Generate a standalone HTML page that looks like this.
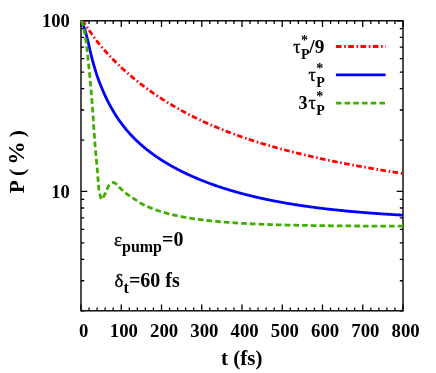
<!DOCTYPE html>
<html><head><meta charset="utf-8"><title>P vs t</title>
<style>html,body{margin:0;padding:0;background:#fff}svg{display:block;will-change:transform}</style></head>
<body><svg width="436" height="373" viewBox="0 0 436 373"><rect x="81.0" y="20.75" width="322.00" height="290.05" fill="none" stroke="#000" stroke-width="1.4"/>
<path d="M81.00 310.8v-6.3M81.00 20.75v6.3M89.05 310.8v-3.2M89.05 20.75v3.2M97.10 310.8v-3.2M97.10 20.75v3.2M105.15 310.8v-3.2M105.15 20.75v3.2M113.20 310.8v-3.2M113.20 20.75v3.2M121.25 310.8v-6.3M121.25 20.75v6.3M129.30 310.8v-3.2M129.30 20.75v3.2M137.35 310.8v-3.2M137.35 20.75v3.2M145.40 310.8v-3.2M145.40 20.75v3.2M153.45 310.8v-3.2M153.45 20.75v3.2M161.50 310.8v-6.3M161.50 20.75v6.3M169.55 310.8v-3.2M169.55 20.75v3.2M177.60 310.8v-3.2M177.60 20.75v3.2M185.65 310.8v-3.2M185.65 20.75v3.2M193.70 310.8v-3.2M193.70 20.75v3.2M201.75 310.8v-6.3M201.75 20.75v6.3M209.80 310.8v-3.2M209.80 20.75v3.2M217.85 310.8v-3.2M217.85 20.75v3.2M225.90 310.8v-3.2M225.90 20.75v3.2M233.95 310.8v-3.2M233.95 20.75v3.2M242.00 310.8v-6.3M242.00 20.75v6.3M250.05 310.8v-3.2M250.05 20.75v3.2M258.10 310.8v-3.2M258.10 20.75v3.2M266.15 310.8v-3.2M266.15 20.75v3.2M274.20 310.8v-3.2M274.20 20.75v3.2M282.25 310.8v-6.3M282.25 20.75v6.3M290.30 310.8v-3.2M290.30 20.75v3.2M298.35 310.8v-3.2M298.35 20.75v3.2M306.40 310.8v-3.2M306.40 20.75v3.2M314.45 310.8v-3.2M314.45 20.75v3.2M322.50 310.8v-6.3M322.50 20.75v6.3M330.55 310.8v-3.2M330.55 20.75v3.2M338.60 310.8v-3.2M338.60 20.75v3.2M346.65 310.8v-3.2M346.65 20.75v3.2M354.70 310.8v-3.2M354.70 20.75v3.2M362.75 310.8v-6.3M362.75 20.75v6.3M370.80 310.8v-3.2M370.80 20.75v3.2M378.85 310.8v-3.2M378.85 20.75v3.2M386.90 310.8v-3.2M386.90 20.75v3.2M394.95 310.8v-3.2M394.95 20.75v3.2M403.00 310.8v-6.3M403.00 20.75v6.3M81.0 20.75h6.3M403.0 20.75h-6.3M81.0 28.56h3.2M403.0 28.56h-3.2M81.0 37.29h3.2M403.0 37.29h-3.2M81.0 47.20h3.2M403.0 47.20h-3.2M81.0 58.62h3.2M403.0 58.62h-3.2M81.0 72.14h3.2M403.0 72.14h-3.2M81.0 88.69h3.2M403.0 88.69h-3.2M81.0 110.02h3.2M403.0 110.02h-3.2M81.0 140.08h3.2M403.0 140.08h-3.2M81.0 191.47h6.3M403.0 191.47h-6.3M81.0 199.28h3.2M403.0 199.28h-3.2M81.0 208.02h3.2M403.0 208.02h-3.2M81.0 217.92h3.2M403.0 217.92h-3.2M81.0 229.35h3.2M403.0 229.35h-3.2M81.0 242.86h3.2M403.0 242.86h-3.2M81.0 259.41h3.2M403.0 259.41h-3.2M81.0 280.74h3.2M403.0 280.74h-3.2M81.0 310.80h3.2M403.0 310.80h-3.2" stroke="#000" stroke-width="1.3" fill="none"/>
<g fill="none" stroke-width="2.8" stroke-linejoin="round">
<path d="M81.40 20.80L81.87 21.20L82.33 21.60L82.79 22.01L83.24 22.42L83.71 22.83L84.16 23.24L84.60 23.67L84.99 24.13L85.36 24.61L85.71 25.12L86.04 25.63L86.37 26.15L86.71 26.68L87.05 27.19L87.39 27.69L87.74 28.20L88.08 28.71L88.42 29.22L88.76 29.73L89.10 30.24L89.44 30.75L89.78 31.26L90.12 31.77L90.47 32.28L90.81 32.79L91.16 33.29L91.50 33.80L91.85 34.30L92.20 34.80L92.56 35.30L92.91 35.80L93.27 36.30L93.63 36.79L94.00 37.29L94.36 37.78L94.73 38.27L95.10 38.76L95.47 39.25L95.84 39.73L96.22 40.22L96.60 40.70L96.97 41.19L97.35 41.67L97.73 42.15L98.11 42.63L98.50 43.11L98.88 43.59L99.27 44.06L99.65 44.54L100.04 45.01L100.43 45.49L100.82 45.96L101.22 46.43L101.61 46.90L102.01 47.37L102.41 47.83L102.80 48.30L103.20 48.76L103.61 49.23L104.01 49.69L104.41 50.15L104.82 50.61L105.22 51.07L105.63 51.53L106.04 51.98L106.45 52.44L106.86 52.89L107.27 53.35L107.69 53.80L108.10 54.25L108.52 54.70L108.94 55.15L109.36 55.60L109.78 56.04L110.20 56.49L110.62 56.93L111.05 57.38L111.47 57.82L111.89 58.26L112.32 58.70L112.75 59.14L113.18 59.58L113.61 60.01L114.04 60.45L114.47 60.88L114.91 61.32L115.34 61.75L115.78 62.18L116.21 62.61L116.65 63.04L117.09 63.47L117.53 63.90L117.97 64.32L118.41 64.75L118.86 65.17L119.30 65.60L119.74 66.02L120.19 66.44L120.64 66.86L121.08 67.28L121.53 67.69L121.98 68.11L122.43 68.53L122.89 68.94L123.34 69.35L123.79 69.77L124.25 70.18L124.70 70.59L125.16 71.00L125.61 71.41L126.07 71.81L126.53 72.22L126.99 72.63L127.45 73.03L127.92 73.43L128.38 73.84L128.84 74.24L129.31 74.64L129.77 75.04L130.24 75.43L130.70 75.83L131.17 76.23L131.64 76.62L132.11 77.02L132.58 77.41L133.05 77.80L133.53 78.19L134.00 78.58L134.47 78.97L134.95 79.36L135.42 79.75L135.90 80.13L136.38 80.52L136.86 80.90L137.33 81.28L137.81 81.66L138.29 82.05L138.78 82.43L139.26 82.80L139.74 83.18L140.23 83.56L140.71 83.93L141.20 84.31L141.68 84.68L142.17 85.05L142.66 85.43L143.14 85.80L143.63 86.17L144.12 86.53L144.61 86.90L145.11 87.27L145.60 87.63L146.09 88.00L146.59 88.36L147.08 88.72L147.58 89.08L148.07 89.44L148.57 89.80L149.07 90.16L149.56 90.52L150.06 90.87L150.56 91.23L151.06 91.58L151.57 91.94L152.07 92.29L152.57 92.64L153.07 92.99L153.58 93.34L154.08 93.69L154.59 94.03L155.09 94.38L155.60 94.72L156.11 95.07L156.62 95.41L157.13 95.75L157.64 96.09L158.15 96.43L158.66 96.77L159.17 97.11L159.68 97.45L160.19 97.78L160.71 98.12L161.22 98.45L161.74 98.78L162.25 99.11L162.77 99.45L163.29 99.77L163.80 100.10L164.32 100.43L164.84 100.76L165.36 101.08L165.88 101.41L166.40 101.73L166.92 102.05L167.45 102.37L167.97 102.70L168.49 103.01L169.02 103.33L169.54 103.65L170.06 103.97L170.59 104.28L171.12 104.60L171.64 104.91L172.17 105.22L172.70 105.53L173.23 105.84L173.76 106.15L174.29 106.46L174.82 106.77L175.35 107.08L175.88 107.38L176.41 107.69L176.95 107.99L177.48 108.29L178.01 108.59L178.55 108.89L179.08 109.19L179.62 109.49L180.15 109.79L180.69 110.08L181.23 110.38L181.77 110.67L182.30 110.97L182.84 111.26L183.38 111.55L183.92 111.84L184.46 112.13L185.00 112.42L185.54 112.71L186.09 113.00L186.63 113.28L187.17 113.57L187.72 113.85L188.26 114.13L188.80 114.41L189.35 114.70L189.89 114.98L190.44 115.25L190.99 115.53L191.53 115.81L192.08 116.09L192.63 116.36L193.18 116.63L193.73 116.91L194.28 117.18L194.82 117.45L195.37 117.72L195.93 117.99L196.48 118.26L197.03 118.53L197.58 118.79L198.13 119.06L198.69 119.33L199.24 119.59L199.79 119.85L200.35 120.11L200.90 120.38L201.46 120.64L202.01 120.90L202.57 121.15L203.12 121.41L203.68 121.67L204.24 121.92L204.80 122.18L205.35 122.43L205.91 122.69L206.47 122.94L207.03 123.19L207.59 123.44L208.15 123.69L208.71 123.94L209.27 124.19L209.83 124.43L210.39 124.68L210.96 124.92L211.52 125.17L212.08 125.41L212.64 125.65L213.21 125.90L213.77 126.14L214.34 126.38L214.90 126.62L215.47 126.85L216.03 127.09L216.60 127.33L217.16 127.56L217.73 127.80L218.30 128.03L218.86 128.27L219.43 128.50L220.00 128.73L220.57 128.96L221.13 129.19L221.70 129.42L222.27 129.65L222.84 129.87L223.41 130.10L223.98 130.33L224.55 130.55L225.12 130.78L225.69 131.00L226.26 131.22L226.84 131.44L227.41 131.66L227.98 131.88L228.55 132.10L229.12 132.32L229.70 132.54L230.27 132.76L230.85 132.97L231.42 133.19L231.99 133.40L232.57 133.62L233.14 133.83L233.72 134.04L234.29 134.25L234.87 134.47L235.44 134.68L236.02 134.88L236.60 135.09L237.17 135.30L237.75 135.51L238.33 135.71L238.91 135.92L239.48 136.13L240.06 136.33L240.64 136.53L241.22 136.74L241.80 136.94L242.38 137.14L242.96 137.34L243.54 137.54L244.12 137.74L244.70 137.94L245.28 138.14L245.86 138.33L246.44 138.53L247.02 138.72L247.60 138.92L248.18 139.11L248.76 139.31L249.34 139.50L249.93 139.69L250.51 139.88L251.09 140.07L251.67 140.26L252.26 140.45L252.84 140.64L253.42 140.83L254.01 141.02L254.59 141.21L255.18 141.39L255.76 141.58L256.35 141.76L256.93 141.95L257.52 142.13L258.10 142.31L258.69 142.50L259.27 142.68L259.86 142.86L260.44 143.04L261.03 143.22L261.62 143.40L262.20 143.58L262.79 143.75L263.38 143.93L263.96 144.11L264.55 144.28L265.14 144.46L265.72 144.64L266.31 144.81L266.90 144.98L267.49 145.16L268.08 145.33L268.67 145.50L269.25 145.67L269.84 145.84L270.43 146.01L271.02 146.18L271.61 146.35L272.20 146.52L272.79 146.69L273.38 146.86L273.97 147.02L274.56 147.19L275.15 147.35L275.74 147.52L276.33 147.68L276.92 147.85L277.51 148.01L278.10 148.17L278.69 148.34L279.29 148.50L279.88 148.66L280.47 148.82L281.06 148.98L281.65 149.14L282.24 149.30L282.84 149.46L283.43 149.62L284.02 149.77L284.61 149.93L285.21 150.09L285.80 150.24L286.39 150.40L286.99 150.55L287.58 150.71L288.17 150.86L288.77 151.02L289.36 151.17L289.95 151.32L290.55 151.47L291.14 151.62L291.74 151.78L292.33 151.93L292.92 152.08L293.52 152.23L294.11 152.37L294.71 152.52L295.30 152.67L295.90 152.82L296.49 152.97L297.09 153.11L297.68 153.26L298.28 153.41L298.88 153.55L299.47 153.70L300.07 153.84L300.66 153.98L301.26 154.13L301.86 154.27L302.45 154.41L303.05 154.56L303.64 154.70L304.24 154.84L304.84 154.98L305.43 155.12L306.03 155.26L306.63 155.40L307.23 155.54L307.82 155.68L308.42 155.82L309.02 155.96L309.61 156.09L310.21 156.23L310.81 156.37L311.41 156.50L312.01 156.64L312.60 156.77L313.20 156.91L313.80 157.04L314.40 157.18L315.00 157.31L315.59 157.45L316.19 157.58L316.79 157.71L317.39 157.84L317.99 157.98L318.59 158.11L319.19 158.24L319.79 158.37L320.38 158.50L320.98 158.63L321.58 158.76L322.18 158.89L322.78 159.02L323.38 159.15L323.98 159.28L324.58 159.40L325.18 159.53L325.78 159.66L326.38 159.78L326.98 159.91L327.58 160.04L328.18 160.16L328.78 160.29L329.38 160.41L329.98 160.54L330.58 160.66L331.18 160.79L331.78 160.91L332.38 161.03L332.98 161.16L333.58 161.28L334.18 161.40L334.78 161.52L335.38 161.64L335.99 161.77L336.59 161.89L337.19 162.01L337.79 162.13L338.39 162.25L338.99 162.37L339.59 162.49L340.19 162.61L340.80 162.73L341.40 162.84L342.00 162.96L342.60 163.08L343.20 163.20L343.80 163.31L344.41 163.43L345.01 163.55L345.61 163.66L346.21 163.78L346.81 163.90L347.42 164.01L348.02 164.13L348.62 164.24L349.22 164.36L349.82 164.47L350.43 164.58L351.03 164.70L351.63 164.81L352.23 164.93L352.84 165.04L353.44 165.15L354.04 165.26L354.65 165.38L355.25 165.49L355.85 165.60L356.45 165.71L357.06 165.82L357.66 165.93L358.26 166.04L358.87 166.15L359.47 166.26L360.07 166.37L360.68 166.48L361.28 166.59L361.88 166.70L362.49 166.81L363.09 166.92L363.69 167.02L364.30 167.13L364.90 167.24L365.50 167.35L366.11 167.45L366.71 167.56L367.31 167.67L367.92 167.77L368.52 167.88L369.13 167.99L369.73 168.09L370.33 168.20L370.94 168.30L371.54 168.41L372.15 168.51L372.75 168.62L373.35 168.72L373.96 168.83L374.56 168.93L375.17 169.03L375.77 169.14L376.38 169.24L376.98 169.34L377.58 169.44L378.19 169.55L378.79 169.65L379.40 169.75L380.00 169.85L380.61 169.96L381.21 170.06L381.82 170.16L382.42 170.26L383.03 170.36L383.63 170.46L384.24 170.56L384.84 170.66L385.44 170.76L386.05 170.86L386.65 170.96L387.26 171.06L387.86 171.16L388.47 171.26L389.07 171.36L389.68 171.45L390.29 171.55L390.89 171.65L391.50 171.75L392.10 171.85L392.71 171.94L393.31 172.04L393.92 172.14L394.52 172.24L395.13 172.33L395.73 172.43L396.34 172.53L396.94 172.62L397.55 172.72L398.15 172.81L398.76 172.91L399.37 173.01L399.97 173.10L400.58 173.20L401.18 173.29L401.79 173.39L402.39 173.48L403.00 173.58" stroke="#ff0000" stroke-dasharray="5.6 2.7 1.6 2.4"/>
<path d="M81.40 20.80L81.70 21.43L81.99 22.07L82.27 22.70L82.55 23.34L82.82 23.98L83.08 24.62L83.34 25.27L83.59 25.92L83.83 26.57L84.06 27.22L84.29 27.87L84.51 28.53L84.72 29.19L84.92 29.85L85.11 30.52L85.30 31.18L85.48 31.85L85.66 32.53L85.84 33.20L86.02 33.87L86.20 34.54L86.38 35.21L86.56 35.88L86.74 36.55L86.92 37.22L87.10 37.89L87.28 38.56L87.45 39.24L87.63 39.91L87.80 40.58L87.96 41.26L88.12 41.93L88.28 42.61L88.44 43.28L88.60 43.96L88.75 44.64L88.91 45.31L89.06 45.99L89.21 46.67L89.36 47.35L89.51 48.02L89.66 48.70L89.82 49.38L89.97 50.06L90.12 50.73L90.27 51.41L90.43 52.09L90.59 52.76L90.74 53.44L90.91 54.11L91.07 54.79L91.24 55.46L91.41 56.13L91.58 56.81L91.75 57.48L91.93 58.15L92.11 58.82L92.28 59.49L92.46 60.16L92.64 60.83L92.83 61.50L93.01 62.17L93.19 62.84L93.38 63.51L93.57 64.18L93.76 64.85L93.95 65.52L94.14 66.19L94.33 66.85L94.53 67.52L94.72 68.19L94.92 68.85L95.12 69.52L95.33 70.18L95.53 70.85L95.74 71.51L95.94 72.17L96.15 72.83L96.36 73.49L96.58 74.15L96.79 74.81L97.01 75.47L97.23 76.12L97.46 76.78L97.68 77.44L97.91 78.09L98.15 78.74L98.39 79.40L98.63 80.05L98.87 80.70L99.11 81.35L99.36 82.00L99.61 82.65L99.86 83.29L100.12 83.94L100.38 84.59L100.63 85.23L100.89 85.88L101.16 86.52L101.42 87.16L101.68 87.80L101.95 88.44L102.21 89.08L102.48 89.72L102.75 90.36L103.03 91.00L103.30 91.64L103.58 92.27L103.86 92.91L104.14 93.54L104.43 94.18L104.72 94.81L105.01 95.44L105.30 96.07L105.59 96.70L105.89 97.33L106.19 97.96L106.49 98.58L106.79 99.20L107.10 99.83L107.40 100.45L107.71 101.07L108.03 101.69L108.34 102.31L108.66 102.93L108.98 103.54L109.31 104.16L109.63 104.77L109.96 105.38L110.29 105.99L110.63 106.60L110.96 107.21L111.30 107.81L111.64 108.42L111.99 109.02L112.33 109.62L112.68 110.22L113.03 110.82L113.39 111.42L113.74 112.01L114.11 112.61L114.47 113.20L114.84 113.79L115.20 114.38L115.58 114.96L115.95 115.55L116.33 116.13L116.71 116.71L117.09 117.29L117.47 117.87L117.86 118.44L118.25 119.02L118.64 119.59L119.04 120.16L119.44 120.73L119.84 121.30L120.25 121.86L120.66 122.42L121.07 122.98L121.48 123.54L121.90 124.09L122.31 124.65L122.73 125.20L123.16 125.75L123.59 126.30L124.02 126.84L124.45 127.38L124.89 127.92L125.33 128.46L125.77 129.00L126.21 129.53L126.66 130.06L127.11 130.59L127.56 131.12L128.01 131.64L128.47 132.17L128.93 132.69L129.39 133.20L129.86 133.72L130.33 134.23L130.80 134.74L131.27 135.25L131.75 135.76L132.22 136.26L132.70 136.76L133.19 137.26L133.67 137.75L134.16 138.25L134.65 138.74L135.15 139.23L135.64 139.71L136.14 140.20L136.64 140.68L137.14 141.16L137.65 141.63L138.15 142.11L138.66 142.58L139.18 143.05L139.69 143.52L140.21 143.98L140.72 144.44L141.25 144.90L141.77 145.36L142.29 145.81L142.82 146.26L143.35 146.71L143.88 147.16L144.41 147.60L144.95 148.05L145.49 148.49L146.02 148.92L146.57 149.36L147.11 149.79L147.65 150.22L148.20 150.65L148.75 151.08L149.30 151.50L149.85 151.92L150.40 152.34L150.96 152.75L151.52 153.17L152.08 153.58L152.64 153.99L153.20 154.40L153.76 154.80L154.33 155.20L154.90 155.60L155.46 156.00L156.03 156.40L156.61 156.79L157.18 157.18L157.75 157.57L158.33 157.96L158.91 158.34L159.49 158.73L160.07 159.11L160.65 159.48L161.23 159.86L161.82 160.23L162.40 160.61L162.99 160.98L163.58 161.34L164.17 161.71L164.76 162.07L165.36 162.44L165.95 162.79L166.54 163.15L167.14 163.51L167.74 163.86L168.34 164.21L168.94 164.56L169.54 164.91L170.14 165.26L170.74 165.60L171.35 165.94L171.95 166.28L172.56 166.62L173.17 166.95L173.77 167.29L174.38 167.62L174.99 167.95L175.61 168.28L176.22 168.60L176.83 168.93L177.45 169.25L178.06 169.57L178.68 169.89L179.30 170.21L179.91 170.53L180.53 170.84L181.15 171.15L181.78 171.46L182.40 171.77L183.02 172.08L183.64 172.38L184.27 172.68L184.89 172.99L185.52 173.29L186.15 173.58L186.77 173.88L187.40 174.17L188.03 174.47L188.66 174.76L189.29 175.05L189.92 175.34L190.56 175.62L191.19 175.91L191.82 176.19L192.46 176.47L193.09 176.75L193.73 177.03L194.37 177.31L195.00 177.58L195.64 177.85L196.28 178.13L196.92 178.40L197.56 178.66L198.20 178.93L198.84 179.20L199.48 179.46L200.13 179.72L200.77 179.99L201.41 180.24L202.06 180.50L202.70 180.76L203.35 181.01L203.99 181.27L204.64 181.52L205.29 181.77L205.94 182.02L206.59 182.27L207.23 182.51L207.88 182.76L208.53 183.00L209.18 183.24L209.84 183.48L210.49 183.72L211.14 183.96L211.79 184.20L212.45 184.43L213.10 184.67L213.75 184.90L214.41 185.13L215.06 185.36L215.72 185.59L216.37 185.81L217.03 186.04L217.69 186.26L218.35 186.48L219.00 186.71L219.66 186.93L220.32 187.14L220.98 187.36L221.64 187.58L222.30 187.79L222.96 188.01L223.62 188.22L224.28 188.43L224.94 188.64L225.61 188.85L226.27 189.05L226.93 189.26L227.60 189.47L228.26 189.67L228.92 189.87L229.59 190.07L230.25 190.27L230.92 190.47L231.58 190.67L232.25 190.86L232.92 191.06L233.58 191.25L234.25 191.44L234.92 191.64L235.58 191.83L236.25 192.02L236.92 192.20L237.59 192.39L238.26 192.58L238.93 192.76L239.60 192.94L240.27 193.13L240.94 193.31L241.61 193.49L242.28 193.67L242.95 193.84L243.62 194.02L244.29 194.20L244.96 194.37L245.63 194.54L246.31 194.72L246.98 194.89L247.65 195.06L248.33 195.23L249.00 195.39L249.67 195.56L250.35 195.73L251.02 195.89L251.70 196.06L252.37 196.22L253.05 196.38L253.72 196.54L254.40 196.70L255.07 196.86L255.75 197.02L256.42 197.18L257.10 197.33L257.78 197.49L258.45 197.64L259.13 197.79L259.81 197.94L260.49 198.10L261.16 198.25L261.84 198.40L262.52 198.54L263.20 198.69L263.88 198.84L264.56 198.98L265.23 199.13L265.91 199.27L266.59 199.41L267.27 199.55L267.95 199.70L268.63 199.84L269.31 199.97L269.99 200.11L270.67 200.25L271.35 200.39L272.03 200.52L272.72 200.66L273.40 200.79L274.08 200.92L274.76 201.05L275.44 201.19L276.12 201.32L276.81 201.45L277.49 201.57L278.17 201.70L278.85 201.83L279.53 201.96L280.22 202.08L280.90 202.21L281.58 202.33L282.27 202.45L282.95 202.57L283.63 202.70L284.32 202.82L285.00 202.94L285.68 203.06L286.37 203.17L287.05 203.29L287.74 203.41L288.42 203.52L289.11 203.64L289.79 203.75L290.47 203.87L291.16 203.98L291.84 204.09L292.53 204.20L293.22 204.32L293.90 204.43L294.59 204.53L295.27 204.64L295.96 204.75L296.64 204.86L297.33 204.97L298.02 205.07L298.70 205.18L299.39 205.28L300.07 205.38L300.76 205.49L301.45 205.59L302.13 205.69L302.82 205.79L303.51 205.89L304.19 205.99L304.88 206.09L305.57 206.19L306.26 206.29L306.94 206.39L307.63 206.48L308.32 206.58L309.01 206.67L309.69 206.77L310.38 206.86L311.07 206.96L311.76 207.05L312.44 207.14L313.13 207.23L313.82 207.32L314.51 207.41L315.20 207.50L315.89 207.59L316.57 207.68L317.26 207.77L317.95 207.86L318.64 207.94L319.33 208.03L320.02 208.12L320.71 208.20L321.40 208.29L322.08 208.37L322.77 208.45L323.46 208.54L324.15 208.62L324.84 208.70L325.53 208.78L326.22 208.86L326.91 208.94L327.60 209.02L328.29 209.10L328.98 209.18L329.67 209.26L330.36 209.34L331.05 209.41L331.74 209.49L332.43 209.57L333.12 209.64L333.81 209.72L334.50 209.79L335.19 209.87L335.88 209.94L336.57 210.01L337.26 210.09L337.95 210.16L338.64 210.23L339.33 210.30L340.02 210.37L340.71 210.44L341.40 210.51L342.09 210.58L342.78 210.65L343.47 210.72L344.16 210.79L344.86 210.85L345.55 210.92L346.24 210.99L346.93 211.05L347.62 211.12L348.31 211.18L349.00 211.25L349.69 211.31L350.38 211.38L351.08 211.44L351.77 211.50L352.46 211.57L353.15 211.63L353.84 211.69L354.53 211.75L355.22 211.81L355.92 211.87L356.61 211.93L357.30 211.99L357.99 212.05L358.68 212.11L359.37 212.17L360.06 212.23L360.76 212.29L361.45 212.34L362.14 212.40L362.83 212.46L363.52 212.51L364.22 212.57L364.91 212.63L365.60 212.68L366.29 212.74L366.98 212.79L367.68 212.84L368.37 212.90L369.06 212.95L369.75 213.00L370.44 213.06L371.14 213.11L371.83 213.16L372.52 213.21L373.21 213.26L373.91 213.31L374.60 213.37L375.29 213.42L375.98 213.47L376.67 213.51L377.37 213.56L378.06 213.61L378.75 213.66L379.44 213.71L380.14 213.76L380.83 213.81L381.52 213.85L382.21 213.90L382.91 213.95L383.60 213.99L384.29 214.04L384.98 214.08L385.68 214.13L386.37 214.17L387.06 214.22L387.76 214.26L388.45 214.31L389.14 214.35L389.83 214.40L390.53 214.44L391.22 214.48L391.91 214.52L392.61 214.57L393.30 214.61L393.99 214.65L394.68 214.69L395.38 214.73L396.07 214.78L396.76 214.82L397.46 214.86L398.15 214.90L398.84 214.94L399.53 214.98L400.23 215.02L400.92 215.05L401.61 215.09L402.31 215.13L403.00 215.17" stroke="#0000ff"/>
<path d="M81.40 20.80L81.73 21.57L82.06 22.35L82.35 23.13L82.60 23.92L82.82 24.72L83.04 25.53L83.24 26.34L83.43 27.15L83.61 27.97L83.79 28.79L83.96 29.62L84.13 30.44L84.29 31.26L84.46 32.08L84.62 32.90L84.78 33.72L84.94 34.54L85.09 35.36L85.24 36.19L85.38 37.01L85.52 37.84L85.65 38.66L85.77 39.49L85.89 40.32L86.01 41.14L86.12 41.97L86.23 42.80L86.34 43.63L86.44 44.46L86.55 45.29L86.65 46.12L86.75 46.95L86.84 47.78L86.94 48.61L87.03 49.45L87.13 50.28L87.22 51.11L87.31 51.94L87.40 52.77L87.49 53.60L87.58 54.44L87.67 55.27L87.76 56.10L87.85 56.93L87.93 57.76L88.02 58.59L88.11 59.43L88.20 60.26L88.28 61.09L88.37 61.92L88.46 62.75L88.54 63.59L88.63 64.42L88.71 65.25L88.79 66.08L88.88 66.91L88.96 67.75L89.04 68.58L89.13 69.41L89.21 70.24L89.29 71.08L89.37 71.91L89.45 72.74L89.53 73.57L89.61 74.41L89.69 75.24L89.77 76.07L89.85 76.90L89.93 77.74L90.01 78.57L90.08 79.40L90.16 80.24L90.24 81.07L90.31 81.90L90.39 82.73L90.46 83.57L90.54 84.40L90.61 85.23L90.69 86.07L90.76 86.90L90.84 87.73L90.91 88.57L90.98 89.40L91.05 90.23L91.13 91.07L91.20 91.90L91.27 92.73L91.34 93.57L91.41 94.40L91.48 95.23L91.55 96.07L91.62 96.90L91.69 97.73L91.76 98.57L91.83 99.40L91.90 100.24L91.96 101.07L92.03 101.90L92.10 102.74L92.17 103.57L92.23 104.40L92.29 105.24L92.36 106.07L92.42 106.90L92.48 107.74L92.55 108.57L92.61 109.41L92.67 110.24L92.73 111.08L92.79 111.91L92.84 112.74L92.90 113.58L92.96 114.41L93.02 115.25L93.08 116.08L93.13 116.92L93.19 117.75L93.25 118.59L93.30 119.42L93.36 120.25L93.41 121.09L93.47 121.92L93.52 122.76L93.58 123.59L93.63 124.43L93.69 125.26L93.74 126.10L93.80 126.93L93.86 127.77L93.91 128.60L93.97 129.44L94.02 130.27L94.08 131.11L94.13 131.94L94.19 132.77L94.25 133.61L94.30 134.44L94.36 135.28L94.42 136.11L94.48 136.95L94.53 137.78L94.59 138.62L94.65 139.45L94.71 140.28L94.77 141.12L94.83 141.95L94.90 142.79L94.96 143.62L95.02 144.45L95.08 145.29L95.15 146.12L95.21 146.96L95.28 147.79L95.35 148.62L95.41 149.46L95.48 150.29L95.55 151.12L95.62 151.96L95.70 152.79L95.77 153.62L95.85 154.46L95.93 155.29L96.01 156.12L96.09 156.95L96.17 157.79L96.25 158.62L96.34 159.45L96.42 160.28L96.50 161.11L96.59 161.95L96.67 162.78L96.75 163.61L96.83 164.44L96.91 165.28L96.99 166.11L97.07 166.94L97.15 167.78L97.23 168.61L97.30 169.44L97.37 170.27L97.44 171.11L97.51 171.94L97.58 172.78L97.64 173.61L97.71 174.44L97.77 175.28L97.83 176.11L97.90 176.94L97.96 177.78L98.02 178.61L98.09 179.45L98.15 180.28L98.21 181.12L98.27 181.95L98.32 182.79L98.38 183.62L98.43 184.46L98.49 185.29L98.56 186.13L98.63 186.96L98.71 187.79L98.80 188.62L98.91 189.45L99.04 190.27L99.20 191.09L99.36 191.92L99.54 192.74L99.73 193.55L99.92 194.37L100.12 195.18L100.35 195.98L100.58 196.79L100.81 197.64L101.02 198.69L101.28 199.42L101.66 199.25L102.19 198.41L102.69 197.73L103.18 197.05L103.67 196.37L104.12 195.67L104.53 194.95L104.91 194.21L105.25 193.45L105.58 192.67L105.91 191.90L106.24 191.13L106.58 190.36L106.90 189.58L107.22 188.80L107.56 188.03L107.93 187.28L108.34 186.58L108.81 185.87L109.33 185.18L109.89 184.55L110.49 184.01L111.16 183.49L111.91 182.98L112.69 182.61L113.44 182.51L114.20 182.70L114.96 183.11L115.71 183.62L116.41 184.13L117.04 184.63L117.63 185.21L118.20 185.83L118.75 186.47L119.30 187.13L119.87 187.76L120.46 188.35L121.06 188.93L121.67 189.50L122.29 190.06L122.91 190.63L123.54 191.18L124.18 191.73L124.82 192.27L125.46 192.80L126.11 193.33L126.77 193.84L127.43 194.35L128.10 194.84L128.78 195.33L129.47 195.80L130.16 196.27L130.86 196.74L131.56 197.20L132.26 197.65L132.96 198.11L133.67 198.56L134.37 199.02L135.07 199.48L135.76 199.95L136.46 200.42L137.15 200.90L137.84 201.37L138.53 201.85L139.22 202.31L139.93 202.76L140.64 203.19L141.36 203.60L142.10 204.00L142.84 204.38L143.59 204.75L144.35 205.12L145.11 205.47L145.87 205.82L146.63 206.17L147.39 206.52L148.15 206.85L148.92 207.19L149.69 207.51L150.47 207.83L151.24 208.14L152.02 208.45L152.80 208.76L153.58 209.05L154.36 209.35L155.15 209.63L155.94 209.91L156.73 210.19L157.52 210.46L158.31 210.73L159.11 210.99L159.90 211.25L160.70 211.50L161.50 211.75L162.30 211.99L163.10 212.23L163.90 212.47L164.71 212.70L165.51 212.93L166.32 213.15L167.12 213.37L167.93 213.58L168.74 213.79L169.55 214.00L170.36 214.20L171.18 214.40L171.99 214.60L172.80 214.79L173.62 214.98L174.43 215.17L175.25 215.35L176.07 215.53L176.88 215.71L177.70 215.88L178.52 216.05L179.34 216.22L180.16 216.38L180.98 216.55L181.80 216.70L182.62 216.86L183.45 217.01L184.27 217.16L185.09 217.31L185.92 217.46L186.74 217.60L187.56 217.74L188.39 217.88L189.21 218.02L190.04 218.15L190.87 218.28L191.69 218.41L192.52 218.54L193.35 218.66L194.17 218.78L195.00 218.91L195.83 219.02L196.66 219.14L197.49 219.25L198.31 219.37L199.14 219.48L199.97 219.59L200.80 219.70L201.63 219.80L202.46 219.90L203.29 220.01L204.12 220.11L204.95 220.21L205.78 220.30L206.61 220.40L207.45 220.49L208.28 220.58L209.11 220.68L209.94 220.76L210.77 220.85L211.60 220.94L212.44 221.02L213.27 221.11L214.10 221.19L214.93 221.27L215.77 221.35L216.60 221.43L217.43 221.51L218.26 221.58L219.10 221.66L219.93 221.73L220.76 221.80L221.60 221.87L222.43 221.94L223.26 222.01L224.10 222.08L224.93 222.15L225.76 222.21L226.60 222.28L227.43 222.34L228.27 222.40L229.10 222.47L229.94 222.53L230.77 222.59L231.60 222.64L232.44 222.70L233.27 222.76L234.11 222.82L234.94 222.87L235.78 222.92L236.61 222.98L237.45 223.03L238.28 223.08L239.12 223.13L239.95 223.18L240.79 223.23L241.62 223.28L242.46 223.33L243.29 223.38L244.13 223.42L244.96 223.47L245.80 223.51L246.63 223.56L247.47 223.60L248.30 223.64L249.14 223.68L249.97 223.73L250.81 223.77L251.64 223.81L252.48 223.85L253.31 223.89L254.15 223.92L254.99 223.96L255.82 224.00L256.66 224.04L257.49 224.07L258.33 224.11L259.16 224.14L260.00 224.18L260.83 224.21L261.67 224.24L262.51 224.28L263.34 224.31L264.18 224.34L265.01 224.37L265.85 224.40L266.69 224.43L267.52 224.46L268.36 224.49L269.19 224.52L270.03 224.55L270.86 224.58L271.70 224.60L272.54 224.63L273.37 224.66L274.21 224.68L275.04 224.71L275.88 224.74L276.72 224.76L277.55 224.79L278.39 224.81L279.22 224.83L280.06 224.86L280.90 224.88L281.73 224.90L282.57 224.93L283.40 224.95L284.24 224.97L285.08 224.99L285.91 225.01L286.75 225.03L287.59 225.05L288.42 225.07L289.26 225.09L290.09 225.11L290.93 225.13L291.77 225.15L292.60 225.17L293.44 225.19L294.27 225.21L295.11 225.22L295.95 225.24L296.78 225.26L297.62 225.28L298.46 225.29L299.29 225.31L300.13 225.33L300.96 225.34L301.80 225.36L302.64 225.37L303.47 225.39L304.31 225.40L305.15 225.42L305.98 225.43L306.82 225.45L307.65 225.46L308.49 225.47L309.33 225.49L310.16 225.50L311.00 225.52L311.84 225.53L312.67 225.54L313.51 225.55L314.35 225.57L315.18 225.58L316.02 225.59L316.85 225.60L317.69 225.61L318.53 225.63L319.36 225.64L320.20 225.65L321.04 225.66L321.87 225.67L322.71 225.68L323.54 225.69L324.38 225.70L325.22 225.71L326.05 225.72L326.89 225.73L327.73 225.74L328.56 225.75L329.40 225.76L330.24 225.77L331.07 225.78L331.91 225.79L332.74 225.80L333.58 225.81L334.42 225.81L335.25 225.82L336.09 225.83L336.93 225.84L337.76 225.85L338.60 225.86L339.44 225.86L340.27 225.87L341.11 225.88L341.94 225.89L342.78 225.89L343.62 225.90L344.45 225.91L345.29 225.91L346.13 225.92L346.96 225.93L347.80 225.93L348.64 225.94L349.47 225.95L350.31 225.95L351.14 225.96L351.98 225.97L352.82 225.97L353.65 225.98L354.49 225.98L355.33 225.99L356.16 226.00L357.00 226.00L357.84 226.01L358.67 226.01L359.51 226.02L360.34 226.02L361.18 226.03L362.02 226.03L362.85 226.04L363.69 226.04L364.53 226.05L365.36 226.05L366.20 226.06L367.04 226.06L367.87 226.07L368.71 226.07L369.54 226.08L370.38 226.08L371.22 226.09L372.05 226.09L372.89 226.09L373.73 226.10L374.56 226.10L375.40 226.11L376.24 226.11L377.07 226.11L377.91 226.12L378.74 226.12L379.58 226.13L380.42 226.13L381.25 226.13L382.09 226.14L382.93 226.14L383.76 226.14L384.60 226.15L385.44 226.15L386.27 226.15L387.11 226.16L387.95 226.16L388.78 226.16L389.62 226.17L390.45 226.17L391.29 226.17L392.13 226.18L392.96 226.18L393.80 226.18L394.64 226.18L395.47 226.19L396.31 226.19L397.15 226.19L397.98 226.19L398.82 226.20L399.65 226.20L400.49 226.20L401.33 226.21L402.16 226.21L403.00 226.21" stroke="#40ae00" stroke-dasharray="5.6 3.1"/>
</g>
<g fill="none" stroke-width="2.8">
<path d="M335.9 46.5H385.6" stroke="#ff0000" stroke-dasharray="5.6 2.7 1.6 2.4"/>
<path d="M335.9 74.8H385.6" stroke="#0000ff"/>
<path d="M335.9 103.2H385.6" stroke="#40ae00" stroke-dasharray="5.6 3.1"/>
</g>
<g font-family="'Liberation Serif', serif" font-weight="bold" fill="#000">
<text x="83.60" y="336.5" font-size="18.8" text-anchor="middle">0</text>
<text x="123.85" y="336.5" font-size="18.8" text-anchor="middle">100</text>
<text x="164.10" y="336.5" font-size="18.8" text-anchor="middle">200</text>
<text x="204.35" y="336.5" font-size="18.8" text-anchor="middle">300</text>
<text x="244.60" y="336.5" font-size="18.8" text-anchor="middle">400</text>
<text x="284.85" y="336.5" font-size="18.8" text-anchor="middle">500</text>
<text x="325.10" y="336.5" font-size="18.8" text-anchor="middle">600</text>
<text x="365.35" y="336.5" font-size="18.8" text-anchor="middle">700</text>
<text x="405.60" y="336.5" font-size="18.8" text-anchor="middle">800</text>
<text x="69.8" y="27.0" font-size="18.6" text-anchor="end">100</text>
<text x="69.8" y="197.7" font-size="18.6" text-anchor="end">10</text>
<text x="241.8" y="365" font-size="21" text-anchor="middle">t (fs)</text>
<text transform="translate(23.6,161.6) rotate(-90)" font-size="21.3" text-anchor="middle">P ( <tspan font-size="23.5" dx="-1.2">%</tspan><tspan dx="-1.2"> )</tspan></text>
<text x="114" y="246.3" font-size="20"><tspan font-weight="normal" stroke="#000" stroke-width="0.35" font-size="19">ε</tspan><tspan font-size="16" dy="6">pump</tspan><tspan dy="-6">=0</tspan></text>
<text x="114.6" y="287" font-size="20"><tspan font-weight="normal" stroke="#000" stroke-width="0.35" font-size="19">δ</tspan><tspan font-size="16" dy="6">t</tspan><tspan dy="-6">=60 fs</tspan></text>
<text x="293.3" y="52.9" font-size="18" font-weight="normal" stroke="#000" stroke-width="0.35">τ</text><text x="300.90000000000003" y="44.599999999999994" font-size="14">*</text><text x="300.90000000000003" y="58.9" font-size="14">P</text><text x="309.3" y="52.9" font-size="18" textLength="15" lengthAdjust="spacingAndGlyphs">/9</text>
<text x="308.6" y="81.0" font-size="18" font-weight="normal" stroke="#000" stroke-width="0.35">τ</text><text x="316.20000000000005" y="72.7" font-size="14">*</text><text x="316.20000000000005" y="87.0" font-size="14">P</text>
<text x="307.6" y="109.0" font-size="18" text-anchor="end">3</text><text x="308.6" y="109.0" font-size="18" font-weight="normal" stroke="#000" stroke-width="0.35">τ</text><text x="316.20000000000005" y="100.7" font-size="14">*</text><text x="316.20000000000005" y="115.0" font-size="14">P</text>
</g></svg></body></html>
